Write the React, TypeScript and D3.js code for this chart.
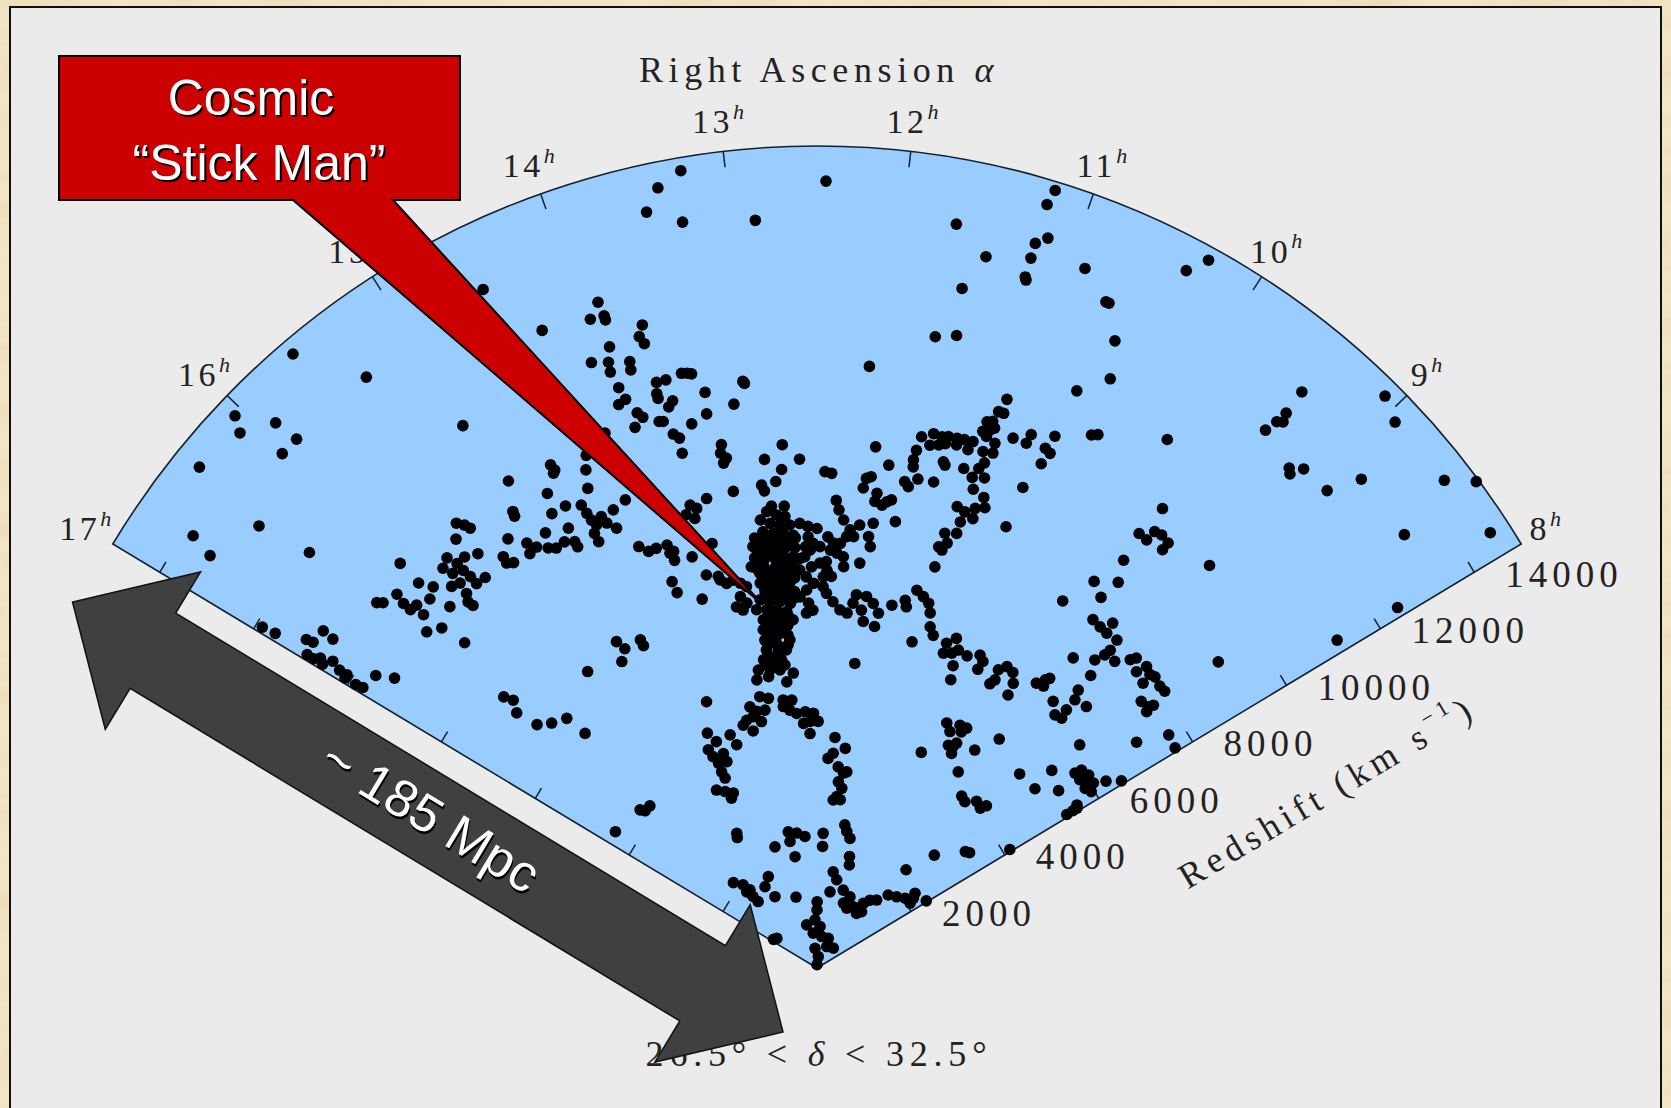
import React from "react";
import * as d3 from "d3";

// Galaxy right ascension (hours) and recession velocity cz (km/s), one entry per galaxy
const galaxyRA: number[] = [
  15.59, 15.35, 14.5, 14.28, 15.03, 16.05, 16.1, 15.92, 15.9, 16.02,
  16.39, 16.44, 16.72, 16.76, 16.37, 14.97, 14.63, 14.62, 14.64, 14.76,
  14.68, 15.07, 15.08, 14.81, 15.48, 15.44, 15.42, 15.56, 15.23, 14.94,
  15.12, 15.07, 15.15, 14.99, 14.93, 15.35, 15.36, 15.31, 16.0, 15.71,
  15.68, 15.6, 15.5, 15.79, 15.76, 15.68, 15.67, 15.77, 15.84, 15.58,
  15.67, 15.79, 15.82, 15.97, 15.83, 16.01, 15.95, 16.04, 16.19, 16.21,
  16.21, 16.15, 16.34, 16.31, 16.17, 16.96, 16.95, 16.75, 16.76, 16.87,
  16.86, 16.96, 16.96, 16.93, 16.96, 16.9, 16.93, 16.93, 16.96, 16.96,
  16.95, 16.81, 16.74, 16.26, 16.15, 16.11, 16.25, 16.21, 16.29, 16.24,
  16.11, 15.94, 15.91, 15.38, 14.91, 14.87, 14.66, 14.66, 14.98, 16.77,
  13.24, 13.38, 13.47, 13.28, 12.86, 12.45, 12.12, 13.89, 13.97, 13.88,
  13.88, 13.66, 13.7, 13.68, 13.91, 14.06, 13.95, 13.96, 13.81, 13.82,
  13.48, 13.44, 13.41, 13.67, 13.6, 13.05, 13.04, 13.94, 13.34, 13.69,
  13.69, 13.59, 13.63, 13.92, 13.98, 13.14, 13.87, 13.84, 13.36, 13.73,
  13.7, 13.49, 13.92, 13.65, 13.61, 14.15, 13.62, 13.29, 13.31, 13.27,
  13.3, 12.79, 12.95, 12.65, 12.81, 12.87, 13.0, 12.98, 13.26, 12.01,
  11.88, 12.43, 12.37, 12.06, 12.02, 12.08, 11.95, 11.96, 11.89, 12.32,
  12.29, 13.51, 13.67, 13.62, 13.66, 13.73, 14.2, 14.56, 14.55, 14.54,
  14.52, 14.45, 14.43, 14.33, 14.37, 14.57, 14.57, 14.75, 14.84, 14.76,
  14.76, 14.4, 14.45, 14.35, 12.98, 12.89, 12.81, 13.05, 12.96, 12.87,
  12.77, 13.04, 12.94, 12.84, 12.74, 13.1, 13.0, 12.9, 12.8, 13.16,
  13.1, 12.96, 12.86, 12.75, 12.62, 13.08, 12.93, 12.79, 13.21, 13.13,
  13.02, 12.91, 12.8, 12.69, 13.14, 13.03, 12.92, 12.81, 13.1, 12.99,
  12.87, 12.76, 13.17, 13.06, 12.94, 12.82, 13.11, 12.99, 12.87, 13.17,
  13.05, 12.92, 12.8, 13.19, 13.06, 12.94, 12.86, 13.19, 13.06, 13.19,
  13.03, 12.92, 13.25, 13.12, 13.0, 13.35, 13.18, 13.04, 12.85, 13.4,
  13.22, 12.96, 12.67, 12.59, 12.5, 12.59, 12.54, 12.57, 12.63, 12.68,
  12.56, 12.47, 12.4, 12.43, 12.43, 12.39, 12.31, 12.22, 12.13, 12.07,
  12.04, 11.96, 11.92, 11.83, 11.75, 11.77, 11.92, 12.62, 12.54, 12.62,
  12.7, 12.6, 12.55, 12.63, 12.24, 12.17, 12.2, 12.26, 12.33, 12.36,
  12.29, 12.22, 12.39, 12.47, 12.39, 12.34, 12.08, 11.95, 11.98, 11.95,
  12.13, 12.04, 12.21, 13.43, 13.36, 13.3, 13.51, 13.57, 13.39, 13.33,
  13.46, 13.39, 13.23, 13.7, 13.58, 14.25, 14.18, 14.1, 13.99, 13.99,
  13.95, 13.97, 13.79, 13.56, 14.07, 14.06, 13.82, 13.41, 13.28, 13.05,
  12.91, 11.96, 14.22, 13.6, 13.51, 13.59, 13.71, 13.79, 13.47, 13.37,
  13.65, 13.06, 12.96, 12.85, 12.7, 12.56, 12.62, 12.48, 12.74, 12.63,
  14.41, 14.33, 14.06, 14.01, 14.52, 14.5, 14.3, 14.46, 14.3, 14.48,
  14.47, 14.75, 14.6, 14.54, 14.45, 12.16, 11.94, 12.27, 12.17, 12.04,
  11.91, 11.84, 12.0, 11.9, 12.0, 12.08, 11.9, 10.53, 14.85, 14.9,
  13.96, 13.41, 13.15, 13.42, 12.9, 12.3, 12.3, 11.66, 11.56, 11.41,
  13.35, 11.26, 11.17, 8.98, 9.28, 15.89, 15.68, 15.6, 15.69, 15.67,
  15.76, 14.64, 14.99, 14.83, 13.76, 11.77, 11.54, 11.76, 11.08, 10.6,
  10.81, 10.16, 9.76, 9.78, 9.6, 9.35, 9.57, 10.48, 9.12, 8.82,
  8.56, 8.37, 8.48, 8.29, 8.04, 12.49, 12.5, 12.68, 13.53, 12.18,
  12.97, 11.85, 10.91, 9.48, 12.94, 12.0, 12.5, 10.63, 16.59, 16.82,
  16.18, 16.0, 16.13,
  11.2, 11.22, 11.69, 11.48, 11.22, 11.16, 11.22, 11.22, 11.21,
  10.9, 11.58, 10.37, 10.29, 10.71, 10.69, 11.69, 11.55, 10.56, 10.48, 10.65,
  11.09, 11.12, 11.08, 11.18, 11.14, 11.11, 11.19, 11.14, 11.15,
  11.65, 11.56, 11.49, 11.44, 11.37, 11.31, 11.24, 11.45, 11.5, 11.36, 11.26, 11.67, 11.57,
  10.95, 10.83, 10.84, 10.66, 10.69, 10.64, 10.67, 10.42, 10.38, 9.94, 11.14, 11.07, 11.06,
  11.68, 11.67, 11.43, 11.41, 11.25, 11.13, 11.1, 11.16, 11.06, 11.72, 11.68, 11.61, 11.47, 11.12, 11.01, 10.97, 10.73,
  11.85, 11.81, 11.74, 11.21, 11.13, 11.05, 11.14, 11.04, 11.14, 11.25, 11.2, 11.27, 11.23, 10.73, 11.25,
  9.68, 9.71, 9.63, 9.62, 9.56, 9.48, 9.48, 9.68, 9.12, 9.78, 9.6, 9.64, 9.92,
  11.61, 11.47, 11.44, 11.37, 11.28, 11.2, 11.15, 11.1, 11.03, 11.26,
  10.84, 10.75, 10.83, 10.73, 10.67, 10.54, 10.4, 10.33, 10.34, 10.65, 10.6,
  10.11, 10.04, 9.94, 10.08, 10.11, 9.86, 9.83, 9.63, 9.57, 9.54, 9.54, 9.33, 9.14, 9.15, 9.2, 9.2, 9.11, 9.0,
  9.48, 9.57, 9.47, 9.38, 9.4, 9.26, 9.24, 9.25, 9.29, 9.13, 9.21, 9.03, 9.0, 8.9, 8.87, 8.74, 8.79, 8.77, 8.64, 8.57, 8.64, 8.55, 8.53, 8.52, 8.48,
  10.37, 10.26, 10.17, 10.06, 10.1, 10.17, 10.09, 10.07, 10.05, 9.76, 9.56, 9.77, 8.71,
  8.32, 8.19, 8.04, 8.97, 8.69, 8.64, 8.4, 8.46, 8.44, 8.33, 8.35, 8.28, 8.21, 8.21, 8.13,
  8.14, 8.04, 8.08, 8.04, 8.04, 8.04, 9.44, 9.32, 9.16, 9.02, 8.97, 8.54, 8.46, 8.04,
  9.44, 9.43, 9.41, 9.44, 9.46, 9.08, 8.94, 9.19, 9.16, 9.12, 8.92, 8.83, 8.52, 8.41, 8.41, 8.14, 8.06, 8.09,
];

const galaxyCz: number[] = [
  14730, 13560, 13800, 12670, 11820, 14640, 14360, 14020, 13540, 13540,
  14510, 12990, 13850, 13390, 11970, 10520, 10390, 10270, 10230, 9960,
  9600, 10010, 9920, 9600, 10450, 10330, 10220, 10230, 9650, 9360,
  9390, 9230, 9200, 9100, 9020, 9440, 9310, 9240, 10600, 10080,
  9880, 9880, 9770, 9990, 9800, 9710, 9540, 9580, 9640, 9350,
  9370, 9360, 9120, 9400, 9230, 10110, 9870, 9760, 10260, 10060,
  9890, 9860, 10440, 10350, 9650, 11880, 11620, 10910, 10680, 11080,
  10950, 10920, 10780, 10680, 10590, 10460, 10270, 10110, 10110, 9880,
  9740, 9660, 9350, 9400, 9240, 8750, 7560, 7390, 7190, 6770,
  6590, 6450, 6020, 6840, 6990, 6800, 6800, 6680, 6630, 4440,
  14760, 14530, 14140, 13830, 13690, 14360, 11020, 12790, 12540, 12520,
  12440, 12160, 11970, 11820, 11950, 11790, 11690, 11510, 11580, 11430,
  11130, 11110, 11080, 11080, 11080, 10790, 10750, 11190, 10700, 10880,
  10790, 10680, 10590, 10950, 10900, 10400, 10650, 10540, 10310, 10380,
  10360, 10190, 10410, 10090, 9990, 10500, 9710, 9710, 9560, 9450,
  9370, 9570, 9330, 9290, 9120, 8910, 8870, 8760, 8830, 9570,
  9270, 9060, 9030, 8980, 9020, 8800, 8730, 8580, 8530, 8540,
  8370, 8800, 8760, 8670, 8500, 8610, 9230, 9480, 9300, 9150,
  9030, 9130, 8980, 9150, 8820, 8910, 8740, 9220, 9040, 8950,
  8840, 10020, 9700, 10260, 8380, 8300, 8260, 8240, 8160, 8110,
  8100, 8020, 7970, 7960, 7910, 7850, 7800, 7780, 7740, 7780,
  7640, 7610, 7560, 7520, 7690, 7450, 7420, 7370, 7420, 7280,
  7250, 7200, 7220, 7270, 7100, 7070, 7050, 7040, 6930, 6880,
  6860, 6880, 6800, 6740, 6720, 6670, 6600, 6570, 6530, 6430,
  6400, 6350, 6370, 6250, 6220, 6200, 6010, 6060, 6040, 5880,
  5850, 5830, 5710, 5680, 5660, 5540, 5510, 5480, 5400, 5370,
  5390, 5250, 8120, 8060, 8020, 7870, 7750, 7630, 7510, 7480,
  7320, 7390, 7420, 7140, 6960, 6840, 6690, 6550, 6500, 6690,
  6850, 6580, 6840, 6730, 6570, 6320, 6380, 7140, 7020, 6900,
  6780, 6660, 6530, 6480, 8190, 8020, 7890, 7760, 7760, 7630,
  7580, 7520, 7870, 7690, 7260, 7150, 8120, 8180, 7930, 7750,
  7900, 7430, 7340, 7240, 7160, 7080, 7210, 7300, 6920, 6780,
  6750, 6670, 6630, 7450, 7370, 8350, 8200, 8200, 8190, 8030,
  8040, 7880, 7840, 7980, 7530, 7310, 7050, 5060, 5000, 4930,
  4910, 5600, 5260, 4920, 4810, 4730, 4700, 4630, 4610, 4800,
  4480, 4810, 4730, 4660, 4680, 4650, 4500, 4500, 4470, 4280,
  4730, 4520, 4540, 4330, 4450, 4300, 4270, 4150, 4110, 3980,
  3850, 3730, 3630, 3470, 3540, 4220, 4040, 3830, 3930, 3690,
  3590, 3620, 3420, 3310, 3150, 3080, 3100, 4370, 2860, 2790,
  2340, 2540, 2490, 2360, 2410, 2460, 2220, 2660, 2550, 2440,
  2070, 2120, 1970, 2970, 2420, 2180, 2030, 1880, 1750, 1620,
  1890, 1890, 1760, 1510, 1350, 1780, 1650, 1410, 1500, 1430,
  1280, 1300, 1230, 1450, 1570, 1650, 1310, 1220, 1860, 1950,
  2050, 2170, 2250, 2070, 2340, 1210, 1060, 880, 810, 760,
  640, 580, 580, 470, 360, 210, 60, 430, 910, 950,
  4330, 4250, 4250,
  14840, 14550, 13810, 13340, 13810, 13970, 13530, 13170, 13120,
  13670, 12680, 14400, 14760, 13250, 13250, 11720, 11820, 12670, 12010, 11550,
  10940, 10680, 10680, 10440, 10480, 10370, 10250, 10310, 10180,
  9880, 9980, 9960, 9990, 10000, 10010, 10020, 9850, 9800, 9880, 9850, 9620, 9760,
  10310, 10490, 10310, 10630, 10360, 10310, 10070, 10940, 11000, 11570, 9900, 10110, 9930,
  9440, 9310, 9520, 9470, 9500, 9580, 9710, 9390, 9450, 9020, 8940, 9110, 9120, 9190, 9110, 8940, 9540,
  8600, 8650, 8270, 8800, 8750, 8870, 8550, 8680, 8330, 8270, 8110, 8000, 7960, 8760, 7630,
  10490, 9870, 9860, 10070, 10100, 10060, 9900, 9310, 10260, 8680, 8930, 8520, 8060,
  6760, 6900, 6790, 7130, 7050, 6960, 6800, 6560, 6430, 6200,
  6380, 6530, 6190, 6250, 6350, 6320, 6440, 6360, 6190, 6050, 5800,
  6370, 6500, 6470, 6180, 6070, 6310, 6080, 6560, 6710, 6780, 6600, 6500, 6550, 6790, 6960, 6340, 6380, 6850,
  7340, 8110, 8090, 8080, 8290, 8110, 7890, 7760, 7570, 7800, 7310, 8020, 8120, 7950, 8150, 8140, 8100, 7900, 8100, 8110, 7660, 7700, 7790, 7620, 9210,
  5060, 4950, 5140, 5160, 5050, 4720, 4740, 4830, 4620, 4910, 5340, 4410, 6290,
  7140, 7700, 7670, 5120, 5600, 5150, 5470, 5900, 6030, 6080, 5900, 5980, 6070, 5890, 5950,
  6280, 6520, 5600, 5480, 5350, 5570, 4100, 4060, 4210, 4170, 4280, 3440, 3490, 4130,
  13740, 13260, 13100, 13030, 12780, 14710, 14510, 12550, 12480, 12720, 12750, 13350, 14500, 14950, 13320, 14630, 12470, 11220,
];

// Dense core of the Coma cluster (the "body"), RA in hours and cz in km/s
const coreRA: number[] = [
  13.13, 13.03, 12.93, 12.83, 12.72, 13.14, 13.04, 12.94, 12.83, 12.73,
  13.16, 13.05, 12.95, 12.84, 12.74, 13.17, 13.07, 12.96, 12.85, 12.74,
  13.08, 12.97, 12.86, 12.75, 13.1, 12.98, 12.87, 13.11, 12.99, 12.88, 12.76,
  13.1, 12.98, 12.86, 13.12, 13.0, 12.87, 13.14, 13.01, 12.88,
  13.16, 13.03, 12.89, 13.18, 13.04, 13.24, 13.1, 12.96, 12.93, 12.81,
];
const coreCz: number[] = [
  7930, 7900, 7880, 7870, 7860, 7750, 7720, 7700, 7690, 7680,
  7570, 7540, 7520, 7500, 7490, 7390, 7360, 7340, 7320, 7310,
  7180, 7160, 7140, 7130, 7000, 6980, 6960, 6820, 6800, 6780, 6770,
  6500, 6480, 6460, 6320, 6300, 6280, 6140, 6120, 6100,
  5960, 5940, 5920, 5780, 5760, 5610, 5580, 5560, 8470, 8450,
];

// Axis ticks and labels
const hourTicks = [9, 10, 11, 12, 13, 14, 15, 16];
const hourLabels = [8, 9, 10, 11, 12, 13, 14, 15, 16, 17];
const czTicks = [2000, 4000, 6000, 8000, 10000, 12000, 14000];

// Page and wedge geometry
const WIDTH = 1671;
const HEIGHT = 1108;
const CX = 817;
const CY = 968;
const R_OUT = 822;
const RA_WEST = 8;
const RA_EAST = 17;
const CZ_MAX = 15000;
const DEG_PER_HOUR = 13.1; // hour of RA projected at mean declination
const HALF_SPAN = ((RA_EAST - RA_WEST) / 2) * DEG_PER_HOUR * (Math.PI / 180);
const DOT_R = 5.8;

const angle = d3.scaleLinear().domain([RA_EAST, RA_WEST]).range([-HALF_SPAN, HALF_SPAN]);
const radius = d3.scaleLinear().domain([0, CZ_MAX]).range([0, R_OUT]);

const polar = (a: number, r: number): [number, number] => [CX + r * Math.sin(a), CY - r * Math.cos(a)];
const project = (ra: number, cz: number): [number, number] => polar(angle(ra), radius(cz));

const SERIF = "'Liberation Serif', 'DejaVu Serif', serif";
const SANS = "'Liberation Sans', Arial, sans-serif";
const INK = "#15202b";

// Double-headed arrow outline from its two tips
function arrowPath(a: [number, number], b: [number, number], shaft: number, headLen: number, headHalf: number) {
  const dx = b[0] - a[0];
  const dy = b[1] - a[1];
  const len = Math.hypot(dx, dy);
  const ux = dx / len, uy = dy / len;
  const nx = -uy, ny = ux;
  const at = (p: [number, number], along: number, side: number) => [p[0] + ux * along + nx * side, p[1] + uy * along + ny * side];
  const pts = [
    a,
    at(a, headLen, headHalf),
    at(a, headLen, shaft),
    at(b, -headLen, shaft),
    at(b, -headLen, headHalf),
    b,
    at(b, -headLen, -headHalf),
    at(b, -headLen, -shaft),
    at(a, headLen, -shaft),
    at(a, headLen, -headHalf),
  ];
  return d3.line()(pts as [number, number][]) + "Z";
}

export default function App() {
  const allRA = galaxyRA.concat(coreRA);
  const allCz = galaxyCz.concat(coreCz);
  const n = Math.min(allRA.length, allCz.length);
  const galaxies = d3.range(n).map((i) => project(allRA[i], allCz[i]));

  const wedge = d3.arc()({
    innerRadius: 0,
    outerRadius: R_OUT,
    startAngle: angle(RA_EAST),
    endAngle: angle(RA_WEST),
  } as any) as string;

  const edgeTicks: { x1: number; y1: number; x2: number; y2: number }[] = [];
  [RA_EAST, RA_WEST].forEach((ra) => {
    const a = angle(ra);
    const dir = ra === RA_EAST ? 1 : -1;
    czTicks.forEach((cz) => {
      const [x, y] = project(ra, cz);
      edgeTicks.push({ x1: x, y1: y, x2: x + dir * Math.cos(a) * 12, y2: y + dir * Math.sin(a) * 12 });
    });
  });

  const arrowA: [number, number] = [72.5, 602];
  const arrowB: [number, number] = [783, 1032];
  const arrowMid: [number, number] = [(arrowA[0] + arrowB[0]) / 2, (arrowA[1] + arrowB[1]) / 2];
  const arrowDeg = (Math.atan2(arrowB[1] - arrowA[1], arrowB[0] - arrowA[0]) * 180) / Math.PI;

  return (
    <div style={{ position: "absolute", left: 0, top: 0 }}>
      <svg width={WIDTH} height={HEIGHT} viewBox={`0 0 ${WIDTH} ${HEIGHT}`} style={{ display: "block" }}>
        <defs>
          <filter id="parchment" x="0" y="0" width="100%" height="100%">
            <feTurbulence type="fractalNoise" baseFrequency="0.012 0.035" numOctaves="4" seed="7" result="noise" />
            <feColorMatrix
              in="noise"
              type="matrix"
              values="0 0 0 0 0.82  0 0 0 0 0.69  0 0 0 0 0.45  1.6 0 0 0 -0.62"
            />
          </filter>
        </defs>

        {/* parchment surround */}
        <rect x={0} y={0} width={WIDTH} height={HEIGHT} fill="#f3e5c6" />
        <rect x={0} y={0} width={WIDTH} height={HEIGHT} filter="url(#parchment)" />

        {/* plot panel */}
        <rect x={10} y={7} width={1651} height={1130} fill="#ebebeb" stroke="#111" strokeWidth={2} />

        {/* survey wedge */}
        <path d={wedge} transform={`translate(${CX},${CY})`} fill="#99ccff" stroke={INK} strokeWidth={1.6} />

        {/* RA ticks on the outer arc */}
        {hourTicks.map((h) => {
          const a = angle(h);
          const [x1, y1] = polar(a, R_OUT);
          const [x2, y2] = polar(a, R_OUT - 16);
          return <line key={`ht${h}`} x1={x1} y1={y1} x2={x2} y2={y2} stroke={INK} strokeWidth={1.5} />;
        })}

        {/* redshift ticks on both edges */}
        {edgeTicks.map((t, i) => (
          <line key={`et${i}`} x1={t.x1} y1={t.y1} x2={t.x2} y2={t.y2} stroke={INK} strokeWidth={1.5} />
        ))}

        {/* galaxies */}
        <g fill="#000">
          {galaxies.map(([x, y], i) => (
            <circle key={i} cx={x} cy={y} r={DOT_R} />
          ))}
        </g>

        {/* RA labels */}
        {hourLabels.map((h) => {
          const [x, y] = polar(angle(h), R_OUT + 30);
          return (
            <text
              key={`hl${h}`}
              x={x}
              y={y}
              textAnchor="middle"
              dominantBaseline="central"
              fontFamily={SERIF}
              fontSize={34}
              letterSpacing={3.5}
              fill="#222"
            >
              {h}
              <tspan fontSize={22} fontStyle="italic" dy={-11}>
                h
              </tspan>
            </text>
          );
        })}

        {/* redshift labels */}
        {czTicks.map((cz) => {
          const [x, y] = project(RA_WEST, cz);
          return (
            <text
              key={`cz${cz}`}
              x={x + 31}
              y={y + 2}
              dominantBaseline="central"
              fontFamily={SERIF}
              fontSize={37}
              letterSpacing={5}
              fill="#222"
            >
              {cz}
            </text>
          );
        })}

        <text x={CX + 2} y={82} textAnchor="middle" fontFamily={SERIF} fontSize={36} letterSpacing={5.6} fill="#222">
          Right Ascension <tspan fontStyle="italic">α</tspan>
        </text>

        <text
          transform="translate(1327,792) rotate(-31)"
          textAnchor="middle"
          dominantBaseline="central"
          fontFamily={SERIF}
          fontSize={36}
          letterSpacing={5.4}
          fill="#222"
        >
          Redshift (km s
          <tspan fontSize={22} dy={-13}>
            −1
          </tspan>
          <tspan dy={13}>)</tspan>
        </text>

        <text x={CX + 2} y={1066} textAnchor="middle" fontFamily={SERIF} fontSize={36} letterSpacing={5.8} fill="#222">
          26.5° &lt; <tspan fontStyle="italic">δ</tspan> &lt; 32.5°
        </text>

        {/* callout */}
        <path
          d="M59,56 H460 V200 H393 L763,605 L293,200 H59 Z"
          fill="#cc0000"
          stroke="#000"
          strokeWidth={2}
          strokeLinejoin="miter"
        />
        <g fontFamily={SANS} fontSize={50} textAnchor="middle">
          <text x={253} y={117} fill="#000">Cosmic</text>
          <text x={251} y={115} fill="#fff">Cosmic</text>
          <text x={261} y={182} fill="#000">“Stick Man”</text>
          <text x={259} y={180} fill="#fff">“Stick Man”</text>
        </g>

        {/* scale arrow */}
        <path d={arrowPath(arrowA, arrowB, 44, 94, 92)} fill="#404040" stroke="#111" strokeWidth={1.5} />
        <g
          transform={`translate(${arrowMid[0] + 3},${arrowMid[1] - 1}) rotate(${arrowDeg})`}
          fontFamily={SANS}
          fontSize={52}
          textAnchor="middle"
          dominantBaseline="central"
        >
          <text x={2} y={2} fill="#000">~ 185 Mpc</text>
          <text x={0} y={0} fill="#fff">~ 185 Mpc</text>
        </g>
      </svg>
    </div>
  );
}
